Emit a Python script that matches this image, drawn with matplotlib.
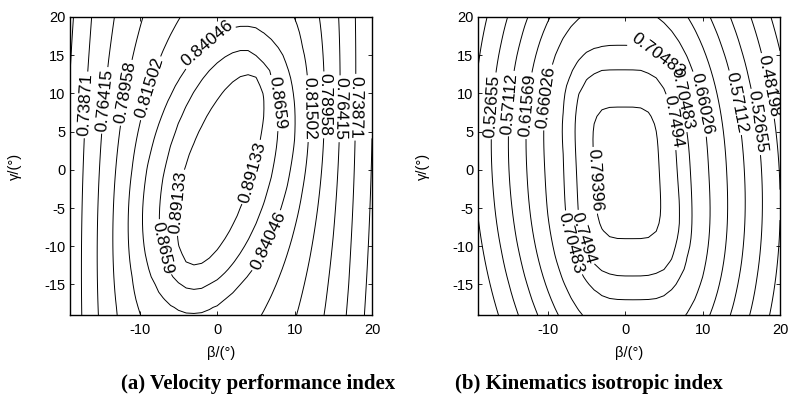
import numpy as np
import matplotlib
matplotlib.use("Agg")
import matplotlib.pyplot as plt

plt.rcParams['font.family'] = ['Liberation Sans', 'DejaVu Sans']
plt.rcParams['axes.unicode_minus'] = False

# grid of the two angles (deg)
beta = np.arange(-19, 20.5, 1.0)
gamma = np.arange(-19, 20.5, 1.0)

x_ticks = [-10, 0, 10, 20]
y_ticks = [-15, -10, -5, 0, 5, 10, 15, 20]

# contour levels (labelled ones and the plain outer ones)
vel_labels = [0.73871, 0.76415, 0.78958, 0.81502, 0.84046, 0.8659, 0.89133]
vel_plain = [0.63696, 0.66240, 0.68783, 0.71327]
kin_labels = [0.48198, 0.52655, 0.57112, 0.61569, 0.66026, 0.70483,
              0.7494, 0.79396]
kin_plain = [0.39284, 0.43741]

# velocity index: level vs. half width at gamma = 0, and the ring shape
vel_ring_w = [0.0, 4.4, 7.0, 9.3, 11.2, 13.3, 15.4, 17.5, 19.7, 21.9, 24.1, 26.3, 30.0]
vel_ring_v = [0.942, 0.89133, 0.8659, 0.84046, 0.81502, 0.78958, 0.76415,
              0.73871, 0.71327, 0.68783, 0.66240, 0.63696, 0.59]
vel_ring_d = [0.0, 4.4, 7.0, 9.3, 11.2, 13.3, 15.4, 17.5, 30.0]
vel_ring_stretch = [2.85, 2.85, 2.21, 2.0, 2.36, 2.9, 3.8, 5.0, 6.0]
vel_tilt_top = [0.31, 0.31, 0.2, 0.18, 0.12, 0.08, 0.05, 0.03, 0.02]
vel_tilt_bot = [0.25, 0.25, 0.2, 0.18, 0.12, 0.08, 0.05, 0.03, 0.02]

# kinematics index: level vs. half width at gamma = 0
kin_ring_w = [0.0, 4.2, 6.6, 8.1, 10.6, 12.9, 15.2, 17.4, 19.7, 22.0, 24.3, 30.0]
kin_ring_v = [0.873, 0.79396, 0.7494, 0.70483, 0.66026, 0.61569, 0.57112,
              0.52655, 0.48198, 0.43741, 0.39284, 0.28]

# where the labels sit in the original (beta, gamma) and which way they read
vel_label_pos = [(-17, 8.5), (-13.6, 9), (-11.3, 10), (-7.7, 10.4), (-0.5, 15.7),
                 (17.1, 8.2), (15.3, 8), (13.5, 8.5), (11.5, 8), (7.7, 8.8),
                 (4.8, -0.4), (6.1, -9.1), (-7.6, -10.3), (-4.8, -4.3)]
vel_label_dir = ['up', 'up', 'up', 'up', 'up', 'down', 'down', 'down', 'down', 'down',
                 'up', 'up', 'down', 'up']
kin_label_pos = [(-17.4, 8.4), (-15.1, 8.7), (-12.6, 8.4), (-10.2, 9.5), (3.9, 14.6),
                 (8.1, 9.5), (10.6, 8.8), (13.8, 8.7), (16.4, 6.2), (18.5, 11),
                 (5.4, 6.2), (-4.4, -1.4), (-6.2, -9.1), (-7.5, -9.7)]
kin_label_dir = ['up', 'up', 'up', 'up', 'down', 'down', 'down', 'down', 'down', 'down',
                 'down', 'down', 'down', 'down']

B, G = np.meshgrid(beta, gamma)

# velocity performance index: tilted, elongated peak
w = 0.5 * (1 + np.tanh(G / 3))
d = np.hypot(B - 0.2, G / 2.5)
for _ in range(120):
    s = w * np.interp(d, vel_ring_d, vel_tilt_top) + (1 - w) * np.interp(d, vel_ring_d, vel_tilt_bot)
    bb = np.interp(d, vel_ring_d, vel_ring_stretch)
    xr = B - 0.2 - s * G
    d = 0.5 * d + 0.5 * np.hypot(xr, G / bb)
vel = np.interp(d, vel_ring_w, vel_ring_v)

# kinematics isotropic index: rounded-rectangle peak
xk = B - (0.2 - 0.05 * G)
yk = (G + 0.4) / 2.05
r = np.hypot(xk, yk)
p = 2 + 3.5 * np.exp(-(r / 8) ** 2)
dk = (np.abs(xk) ** p + np.abs(yk) ** p) ** (1 / p)
kin = np.interp(dk, kin_ring_w, kin_ring_v)

fig = plt.figure(figsize=(7.9, 3.96), dpi=100)
ax1 = fig.add_axes([70 / 790, 81 / 396, 302 / 790, 298 / 396])
ax2 = fig.add_axes([478 / 790, 81 / 396, 302 / 790, 298 / 396])

for ax, z, lab, plain, pos, dirs in [
        (ax1, vel, vel_labels, vel_plain, vel_label_pos, vel_label_dir),
        (ax2, kin, kin_labels, kin_plain, kin_label_pos, kin_label_dir)]:
    ax.contour(B, G, z, levels=plain, colors='k', linewidths=0.7)
    cs = ax.contour(B, G, z, levels=lab, colors='k', linewidths=0.7)
    texts = ax.clabel(cs, manual=pos, fmt=lambda v: f"{v:g}",
                      fontsize=12.5, inline=True, inline_spacing=2)
    # turn labels to read the same way as in the original
    for t, dr in zip(texts, dirs):
        rot = t.get_rotation()
        if rot > 180:
            rot -= 360
        if dr == 'down' and rot > 0:
            rot -= 180
        elif dr == 'up' and rot < 0:
            rot += 180
        t.set_rotation(rot)
    ax.set_xlim(-19, 20)
    ax.set_ylim(-19, 20)
    ax.set_xticks(x_ticks)
    ax.set_yticks(y_ticks)
    ax.tick_params(direction='in', top=True, right=True, labelsize=10.5,
                   length=3, width=0.6)
    ax.tick_params(axis='x', pad=6)
    for sp in ax.spines.values():
        sp.set_linewidth(1.0)
    ax.set_xlabel("β/(°)", fontsize=10.5, labelpad=6)
    ax.set_ylabel("γ/(°)", fontsize=10.5, labelpad=16)

fig.text(258 / 790, 1 - 389 / 396, "(a) Velocity performance index", ha='center', va='baseline',
         family='Liberation Serif', weight='bold', fontsize=15)
fig.text(589 / 790, 1 - 389 / 396, "(b) Kinematics isotropic index", ha='center', va='baseline',
         family='Liberation Serif', weight='bold', fontsize=15)

fig.savefig("out.png", dpi=100)
